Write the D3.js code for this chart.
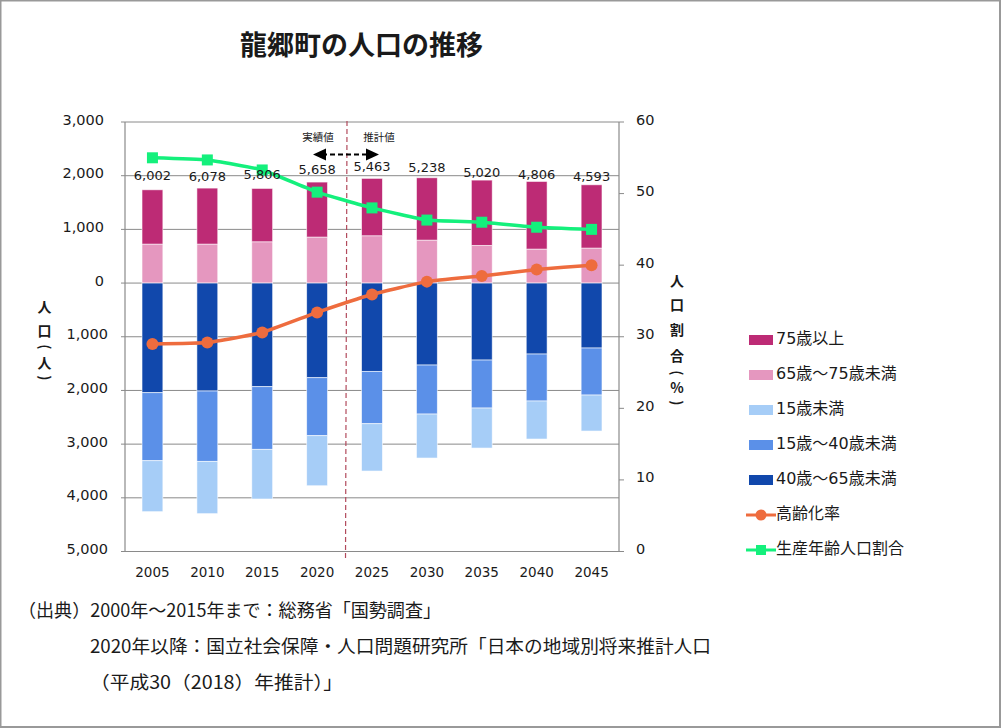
<!DOCTYPE html>
<html>
<head>
<meta charset="utf-8">
<script src="https://cdn.jsdelivr.net/npm/d3@7"></script>
<style>
    html, body { margin: 0; padding: 0; background: #fff; }
    svg { display: block; }
    text { font-family: "DejaVu Sans", "Noto Sans CJK JP", sans-serif; fill: #1a1a1a; }
    .jp { font-family: "Noto Sans CJK JP", sans-serif; }
</style>
</head>
<body>
<svg id="chart" width="1001" height="728"></svg>
<script>
const years = ["2005", "2010", "2015", "2020", "2025", "2030", "2035", "2040", "2045"];
const totals = ["6,002", "6,078", "5,806", "5,658", "5,463", "5,238", "5,020", "4,806", "4,593"];

const age65to75 = [726, 726, 769, 857, 881, 800, 702, 633, 652];
const age75plus = [1011, 1043, 994, 1024, 1069, 1161, 1216, 1260, 1178];
const age40to65 = [2042, 2011, 1930, 1763, 1645, 1527, 1434, 1322, 1210];
const age15to40 = [1267, 1310, 1167, 1080, 975, 913, 894, 875, 876];
const ageUnder15 = [949, 974, 925, 932, 881, 819, 745, 708, 670];

const agingRate = [29.0, 29.2, 30.6, 33.4, 35.9, 37.7, 38.5, 39.4, 40.0];
const workingAgeRate = [55.0, 54.7, 53.3, 50.2, 48.0, 46.3, 46.0, 45.3, 45.0];

const leftTicks = [3000, 2000, 1000, 0, -1000, -2000, -3000, -4000, -5000];
const rightTicks = [0, 10, 20, 30, 40, 50, 60];

const upperSeries = [
    { name: "65歳～75歳未満", values: age65to75, color: "#e597bf" },
    { name: "75歳以上", values: age75plus, color: "#bd2b75" }
];
const lowerSeries = [
    { name: "40歳～65歳未満", values: age40to65, color: "#1148ac" },
    { name: "15歳～40歳未満", values: age15to40, color: "#5b90e8" },
    { name: "15歳未満", values: ageUnder15, color: "#a6cdf7" }
];
const legendItems = [
    { name: "75歳以上", color: "#bd2b75", type: "bar" },
    { name: "65歳～75歳未満", color: "#e597bf", type: "bar" },
    { name: "15歳未満", color: "#a6cdf7", type: "bar" },
    { name: "15歳～40歳未満", color: "#5b90e8", type: "bar" },
    { name: "40歳～65歳未満", color: "#1148ac", type: "bar" },
    { name: "高齢化率", color: "#ee6c3e", type: "circle" },
    { name: "生産年齢人口割合", color: "#14f07c", type: "square" }
];
const sourceLines = [
    { text: "（出典）2000年～2015年まで：総務省「国勢調査」", x: 18, y: 617, width: 423 },
    { text: "2020年以降：国立社会保障・人口問題研究所「日本の地域別将来推計人口", x: 90, y: 653, width: 621 },
    { text: "（平成30（2018）年推計）」", x: 90, y: 689, width: 253 }
];

const svg = d3.select("#chart");
const plotLeft = 125, plotRight = 619, plotTop = 122, plotBottom = 551.5;

// outer frame of the picture
svg.append("rect").attr("x", 0.5).attr("y", 0.5).attr("width", 999.5).attr("height", 726.5)
    .attr("fill", "#fff").attr("stroke", "#999").attr("stroke-width", 2);

const x = d3.scaleBand().domain(years).range([plotLeft, plotRight]).paddingInner(0.62).paddingOuter(0.31);
const xCenter = (year) => x(year) + x.bandwidth() / 2;
const yLeft = d3.scaleLinear().domain([-5000, 3000]).range([plotBottom, plotTop]);
const yRight = d3.scaleLinear().domain([0, 60]).range([plotBottom, plotTop]);

// gridlines go under the bars
svg.append("g").selectAll("line").data(leftTicks).join("line")
    .attr("x1", plotLeft - 4).attr("x2", plotRight)
    .attr("y1", (d) => yLeft(d)).attr("y2", (d) => yLeft(d))
    .attr("stroke", "#8a8a8a").attr("stroke-width", 1);

svg.append("line").attr("x1", plotLeft).attr("x2", plotLeft).attr("y1", plotTop).attr("y2", plotBottom)
    .attr("stroke", "#8a8a8a").attr("stroke-width", 1.2);
svg.append("line").attr("x1", plotRight).attr("x2", plotRight).attr("y1", plotTop).attr("y2", plotBottom)
    .attr("stroke", "#8a8a8a").attr("stroke-width", 1.2);
svg.append("g").selectAll("line").data(rightTicks).join("line")
    .attr("x1", plotRight).attr("x2", plotRight + 5)
    .attr("y1", (d) => yRight(d)).attr("y2", (d) => yRight(d))
    .attr("stroke", "#8a8a8a");

// stacked bars
function drawStack(seriesList, sign) {
    years.forEach((year, i) => {
        let sum = 0;
        seriesList.forEach((s) => {
            const start = sum;
            sum += s.values[i];
            const y0 = yLeft(sign * start), y1 = yLeft(sign * sum);
            svg.append("rect")
                .attr("x", x(year)).attr("width", x.bandwidth())
                .attr("y", Math.min(y0, y1)).attr("height", Math.abs(y1 - y0))
                .attr("fill", s.color).attr("stroke", "#fff").attr("stroke-opacity", 0.7).attr("stroke-width", 0.8);
        });
    });
}
drawStack(upperSeries, 1);
drawStack(lowerSeries, -1);

// axis labels, the negative side of the left axis sits a few px further right
svg.append("g").selectAll("text").data(leftTicks).join("text")
    .attr("x", (d) => d < 0 ? 108 : 104).attr("y", (d) => yLeft(d) - 2.5).attr("dy", "0.35em")
    .attr("text-anchor", "end").attr("font-size", 14.5)
    .text((d) => d3.format(",")(Math.abs(d)));
svg.append("g").selectAll("text").data(rightTicks).join("text")
    .attr("x", plotRight + 17).attr("y", (d) => yRight(d) - 2.5).attr("dy", "0.35em")
    .attr("font-size", 14.5).text((d) => d);
svg.append("g").selectAll("text").data(years).join("text")
    .attr("x", (d) => xCenter(d)).attr("y", 577)
    .attr("text-anchor", "middle").attr("font-size", 13.5).text((d) => d);

// vertical dashed divider between census and projection
svg.append("line").attr("x1", 347).attr("y1", 121).attr("x2", 345.5).attr("y2", 561)
    .attr("stroke", "#b24a5c").attr("stroke-width", 1.2).attr("stroke-dasharray", "5,3");

// lines
const rateLine = d3.line().x((d, i) => xCenter(years[i])).y((d) => yRight(d)).curve(d3.curveCardinal.tension(0.6));
svg.append("path").attr("d", rateLine(agingRate)).attr("fill", "none").attr("stroke", "#ee6c3e").attr("stroke-width", 3.5);
svg.append("path").attr("d", rateLine(workingAgeRate)).attr("fill", "none").attr("stroke", "#14f07c").attr("stroke-width", 3.5);
svg.append("g").selectAll("circle").data(agingRate).join("circle")
    .attr("cx", (d, i) => xCenter(years[i])).attr("cy", (d) => yRight(d)).attr("r", 6).attr("fill", "#ee6c3e");
svg.append("g").selectAll("rect").data(workingAgeRate).join("rect")
    .attr("x", (d, i) => xCenter(years[i]) - 5.5).attr("y", (d) => yRight(d) - 5.5)
    .attr("width", 11).attr("height", 11).attr("fill", "#14f07c");

// total labels sit a little above each bar, hand nudged like the original
const labelNudge = [14, 12, 14, 13, 12, 10, 8, 7, 8];
svg.append("g").selectAll("text").data(totals).join("text")
    .attr("x", (d, i) => xCenter(years[i])).attr("dy", "0.35em")
    .attr("y", (d, i) => yLeft(age65to75[i] + age75plus[i]) - labelNudge[i])
    .attr("text-anchor", "middle").attr("font-size", 13).text((d) => d);

// 実績値 / 推計値 note with double arrow
svg.append("text").attr("class", "jp").attr("x", 318).attr("y", 141).attr("text-anchor", "middle").attr("font-size", 10.5).attr("fill", "#333").text("実績値");
svg.append("text").attr("class", "jp").attr("x", 379).attr("y", 141).attr("text-anchor", "middle").attr("font-size", 10.5).attr("fill", "#333").text("推計値");
svg.append("line").attr("x1", 322).attr("x2", 370).attr("y1", 154.5).attr("y2", 154.5)
    .attr("stroke", "#000").attr("stroke-width", 2).attr("stroke-dasharray", "5,3");
svg.append("path").attr("d", "M313,154.5L326,148.5L326,160.5Z").attr("fill", "#000");
svg.append("path").attr("d", "M379,154.5L366,148.5L366,160.5Z").attr("fill", "#000");

// axis titles are stacked one glyph per row
const leftTitle = ["人", "口", "(", "人", ")"];
const leftRows = [307, 331, 347, 363, 378];
const rightTitle = ["人", "口", "割", "合", "(", "%", ")"];
const rightRows = [281.5, 305, 330, 356, 373, 388, 403];
function drawStackedTitle(glyphs, rows, xPos) {
    svg.append("g").selectAll("text").data(glyphs).join("text")
        .attr("class", "jp").attr("font-weight", 700).attr("font-size", 14).attr("text-anchor", "middle")
        .attr("transform", (d, i) => (d === "(" || d === ")")
            ? `translate(${xPos},${rows[i]}) rotate(90)`
            : `translate(${xPos},${rows[i]})`)
        .attr("dy", "0.35em").text((d) => d);
}
drawStackedTitle(leftTitle, leftRows, 44.5);
drawStackedTitle(rightTitle, rightRows, 677);

// legend
const legendTop = 340, legendStep = 35;
const legend = svg.append("g").selectAll("g").data(legendItems).join("g")
    .attr("transform", (d, i) => `translate(749,${legendTop + i * legendStep})`);
legend.filter((d) => d.type === "bar").append("rect")
    .attr("x", 0).attr("y", -5).attr("width", 24).attr("height", 10).attr("fill", (d) => d.color);
legend.filter((d) => d.type !== "bar").append("line")
    .attr("x1", -3).attr("x2", 27).attr("stroke", (d) => d.color).attr("stroke-width", 3);
legend.filter((d) => d.type === "circle").append("circle").attr("cx", 12).attr("r", 5.5).attr("fill", (d) => d.color);
legend.filter((d) => d.type === "square").append("rect")
    .attr("x", 7).attr("y", -5).attr("width", 10).attr("height", 10).attr("fill", (d) => d.color);
legend.append("text").attr("x", 27).attr("y", -2).attr("dy", "0.35em").attr("font-size", 16).text((d) => d.name);

// title and source note
svg.append("text").attr("class", "jp").attr("x", 240).attr("y", 54.5).attr("font-size", 27).attr("font-weight", 700).text("龍郷町の人口の推移");
svg.append("g").selectAll("text").data(sourceLines).join("text")
    .attr("class", "jp").attr("x", (d) => d.x).attr("y", (d) => d.y).attr("font-size", 18)
    .attr("textLength", (d) => d.width).attr("lengthAdjust", "spacingAndGlyphs").text((d) => d.text);
</script>
</body>
</html>
